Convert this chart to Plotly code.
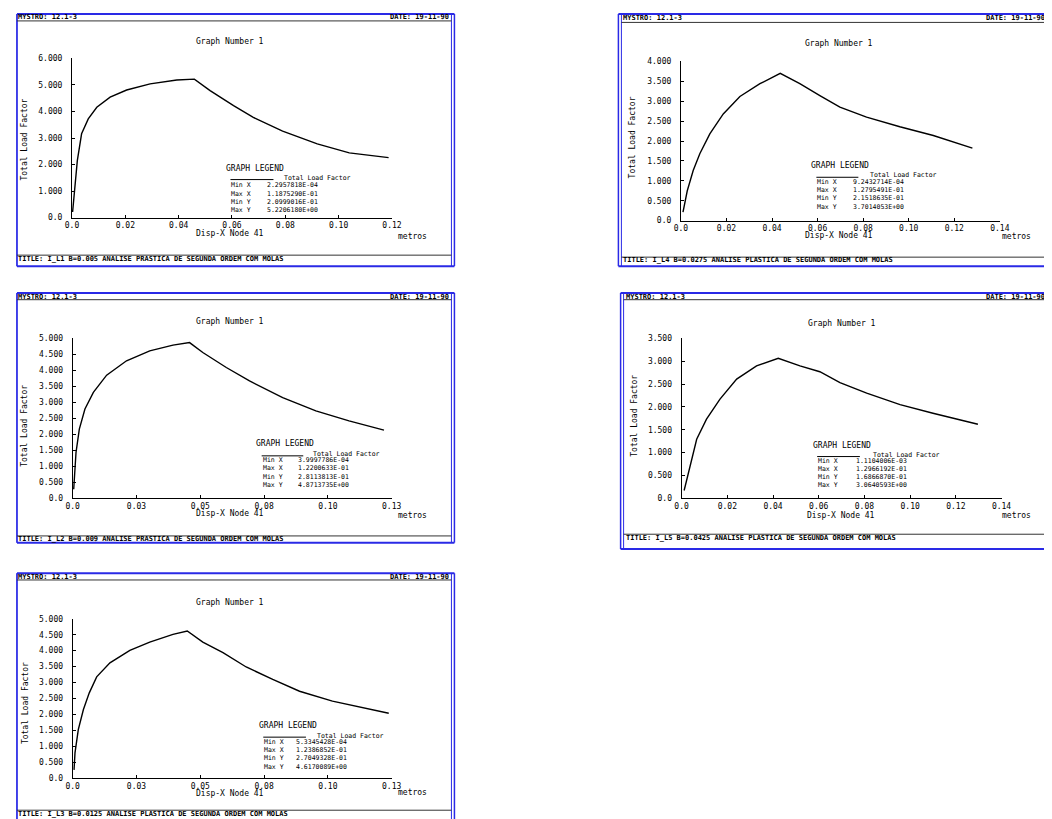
import plotly.graph_objects as go

# Figure size and the measured figure->screen mapping (screen = A * fig + B)
FIG_W, FIG_H = 1052, 819
AX, BX = 0.984, 15.0
AY, BY = 0.988, 11.6

# ---------------- data ----------------
x1 = [0.00023, 0.0011, 0.002, 0.0036, 0.0061, 0.0093, 0.0143, 0.0205, 0.0293, 0.0393, 0.0459,
      0.0518, 0.0606, 0.068, 0.079, 0.092, 0.104, 0.11875]
y1 = [0.21, 1.15, 2.15, 3.16, 3.72, 4.16, 4.54, 4.81, 5.04, 5.19, 5.22,
      4.79, 4.22, 3.78, 3.26, 2.78, 2.44, 2.26]

x2 = [0.00092, 0.0028, 0.0054, 0.0083, 0.0127, 0.0186, 0.0259, 0.0347, 0.0436,
      0.0522, 0.061, 0.0698, 0.0815, 0.0961, 0.1108, 0.12795]
y2 = [0.215, 0.75, 1.26, 1.68, 2.18, 2.68, 3.12, 3.44, 3.70,
      3.44, 3.14, 2.85, 2.60, 2.36, 2.14, 1.82]

x3 = [0.0004, 0.0007, 0.0013, 0.0026, 0.0048, 0.0081, 0.0133, 0.0211, 0.0302, 0.0393, 0.0458,
      0.051, 0.0602, 0.0693, 0.0823, 0.0953, 0.1083, 0.1220]
y3 = [0.28, 0.80, 1.43, 2.16, 2.79, 3.31, 3.85, 4.30, 4.61, 4.79, 4.87,
      4.56, 4.09, 3.67, 3.15, 2.73, 2.42, 2.13]

x4 = [0.00111, 0.0036, 0.0066, 0.0109, 0.0168, 0.0241, 0.0328, 0.0423,
      0.0518, 0.0605, 0.0693, 0.081, 0.0956, 0.110, 0.12966]
y4 = [0.169, 0.71, 1.29, 1.73, 2.17, 2.61, 2.90, 3.064,
      2.90, 2.77, 2.53, 2.30, 2.05, 1.86, 1.62]

x5 = [0.00053, 0.0009, 0.0022, 0.0042, 0.0065, 0.0094, 0.0146, 0.0224, 0.0302, 0.0393, 0.0449,
      0.051, 0.0589, 0.068, 0.0784, 0.0889, 0.1018, 0.12387]
y5 = [0.27, 0.80, 1.53, 2.16, 2.68, 3.18, 3.62, 4.01, 4.27, 4.51, 4.617,
      4.27, 3.94, 3.49, 3.10, 2.73, 2.42, 2.04]

xticks_02 = [0.0, 0.02, 0.04, 0.06, 0.08, 0.10, 0.12, 0.14]
xtext_02 = ["0.0", "0.02", "0.04", "0.06", "0.08", "0.10", "0.12", "0.14"]
xticks_025 = [0.0, 0.025, 0.05, 0.075, 0.10, 0.125]
xtext_025 = ["0.0", "0.03", "0.05", "0.08", "0.10", "0.13"]
yticks_1 = [0, 1, 2, 3, 4, 5, 6]
ytext_1 = ["0.0", "1.000", "2.000", "3.000", "4.000", "5.000", "6.000"]
yticks_05 = [0, 0.5, 1, 1.5, 2, 2.5, 3, 3.5, 4, 4.5, 5]
ytext_05 = ["0.0", "0.500", "1.000", "1.500", "2.000", "2.500", "3.000", "3.500",
            "4.000", "4.500", "5.000"]

legend_labels = ["Min X", "Max X", "Min Y", "Max Y"]
legend_values = [
    ["2.2957818E-04", "1.1875290E-01", "2.0999016E-01", "5.2206180E+00"],
    ["9.2432714E-04", "1.2795491E-01", "2.1518635E-01", "3.7014053E+00"],
    ["3.9997786E-04", "1.2200633E-01", "2.8113813E-01", "4.8713735E+00"],
    ["1.1104006E-03", "1.2966192E-01", "1.6866870E-01", "3.0640593E+00"],
    ["5.3345428E-04", "1.2386852E-01", "2.7049328E-01", "4.6170089E+00"],
]
footers = [
    "TITLE: I_L1 B=0.005 ANALISE PRASTICA DE SEGUNDA ORDEM COM MOLAS",
    "TITLE: I_L4 B=0.0275 ANALISE PLASTICA DE SEGUNDA ORDEM COM MOLAS",
    "TITLE: I_L2 B=0.009 ANALISE PRASTICA DE SEGUNDA ORDEM COM MOLAS",
    "TITLE: I_L5 B=0.0425 ANALISE PLASTICA DE SEGUNDA ORDEM COM MOLAS",
    "TITLE: I_L3 B=0.0125 ANALISE PLASTICA DE SEGUNDA ORDEM COM MOLAS",
]
header_left = "MYSTRO: 12.1-3"
header_right = "DATE: 19-11-90"
graph_title = "Graph Number 1"
x_title = "Disp-X Node 41"
y_title = "Total Load Factor"
unit_text = "metros"
legend_title = "GRAPH LEGEND"
series_name = "Total Load Factor"

# ---------------- layout geometry (target screen pixels) ----------------
EDGE = 2

def fig_x(px):
    return min(max((px - BX) / AX, EDGE), FIG_W - EDGE)

def fig_y(py):
    return min(max((py - BY) / AY, EDGE), FIG_H - EDGE)

def fx(px):
    return fig_x(px) / FIG_W

def fy(py):
    return 1 - fig_y(py) / FIG_H

SCREEN_R = AX * (FIG_W - EDGE) + BX
SCREEN_B = AY * (FIG_H - EDGE) + BY

panels = [
    dict(x=x1, y=y1, xr=0.12, yr=6, xt=(xticks_02[:7], xtext_02[:7]), yt=(yticks_1, ytext_1),
         ax=(72, 392), ay=(217, 58),
         frame=(9, 12.5, 454.5, 265.5), hline=20.5, fline=254.5, ftext=258.5,
         title=(230, 41.5), xtit=(230, 233), unit=(413, 236), ytit=(25, 139),
         leg=dict(gl=(225, 167.5), ul=(230.5, 273.5, 179), tlf=(283.5, 177), lab=230.5, val=266.5,
                  rows=[184.5, 193, 201.3, 209.6])),
    dict(x=x2, y=y2, xr=0.14, yr=4, xt=(xticks_02, xtext_02), yt=(yticks_05[:9], ytext_05[:9]),
         ax=(681, 1000), ay=(220, 61),
         frame=(618.5, 13, 2000, 265.5), hline=22, fline=256.5, ftext=259.5,
         title=(839, 43.3), xtit=(839, 235), unit=(1017, 236), ytit=(633, 137),
         leg=dict(gl=(810.5, 165), ul=(816.5, 858.5, 176.7), tlf=(869.5, 174.5), lab=816.5, val=852.5,
                  rows=[181.5, 189, 197.5, 206])),
    dict(x=x3, y=y3, xr=0.125, yr=5, xt=(xticks_025, xtext_025), yt=(yticks_05, ytext_05),
         ax=(72.7, 391.7), ay=(497.3, 337.7),
         frame=(9, 292.3, 454.5, 541.7), hline=299, fline=535, ftext=538.5,
         title=(230, 321), xtit=(230, 512.5), unit=(412.5, 515), ytit=(25, 425),
         leg=dict(gl=(255, 442.3), ul=(261.7, 303.3, 455), tlf=(311.7, 453), lab=261.7, val=296.7,
                  rows=[459.5, 467.5, 476, 484.5])),
    dict(x=x4, y=y4, xr=0.14, yr=3.5, xt=(xticks_02, xtext_02), yt=(yticks_05[:8], ytext_05[:8]),
         ax=(681.7, 1001.7), ay=(497.3, 337.7),
         frame=(620.7, 292.3, 2000, 548), hline=299, fline=533.3, ftext=536.7,
         title=(841.7, 322.3), xtit=(841, 515), unit=(1016.7, 515), ytit=(635, 415),
         leg=dict(gl=(812, 444.3), ul=(817.3, 860, 455.7), tlf=(871.7, 454.5), lab=817.3, val=855,
                  rows=[460.5, 468, 476, 484.3])),
    dict(x=x5, y=y5, xr=0.125, yr=5, xt=(xticks_025, xtext_025), yt=(yticks_05, ytext_05),
         ax=(72.7, 391.7), ay=(777.3, 617.7),
         frame=(9, 572.3, 454.5, 2000), hline=579, fline=809, ftext=813,
         title=(230, 601), xtit=(230, 792.5), unit=(412.5, 791.7), ytit=(25, 702),
         leg=dict(gl=(258.3, 724), ul=(263.3, 306, 736), tlf=(316, 734.5), lab=263.3, val=295,
                  rows=[740.5, 748.5, 757.3, 766])),
]

FONT = "DejaVu Sans Mono"
BLUE = "#2a2ae6"

fig = go.Figure()
shapes = []
annotations = []

def ann(text, px, py, size=8, xanchor="center", yanchor="middle", angle=0, bold=False):
    t = f"<b>{text}</b>" if bold else text
    annotations.append(dict(text=t, x=fx(px), y=fy(py), xref="paper", yref="paper",
                            showarrow=False, xanchor=xanchor, yanchor=yanchor, textangle=angle,
                            borderpad=0,
                            font=dict(family=FONT, size=size, color="black")))

def line(x0, y0, x1_, y1_, color="black", width=1):
    shapes.append(dict(type="line", xref="paper", yref="paper", x0=fx(x0), y0=fy(y0),
                       x1=fx(x1_), y1=fy(y1_), line=dict(color=color, width=width)))

for i, p in enumerate(panels, start=1):
    sx = "" if i == 1 else str(i)
    fig.add_trace(go.Scatter(x=p["x"], y=p["y"], mode="lines",
                             line=dict(color="black", width=1.4),
                             xaxis="x" + sx, yaxis="y" + sx, showlegend=False))
    common = dict(showline=True, linecolor="black", linewidth=1, showgrid=False, zeroline=False,
                  ticks="inside", ticklen=3, tickcolor="black", tickwidth=1,
                  tickfont=dict(family=FONT, size=8, color="black"), fixedrange=True)
    fig.update_layout(**{
        "xaxis" + sx: dict(common, domain=[fx(p["ax"][0]), fx(p["ax"][1])], range=[0, p["xr"]],
                           anchor="y" + sx, tickmode="array", tickvals=p["xt"][0], ticktext=p["xt"][1],
                           ticklabelstandoff=0),
        "yaxis" + sx: dict(common, domain=[fy(p["ay"][0]), fy(p["ay"][1])], range=[0, p["yr"]],
                           anchor="x" + sx, tickmode="array", tickvals=p["yt"][0], ticktext=p["yt"][1],
                           ticklabelstandoff=7),
    })
    l, t, r, b = p["frame"]
    open_right = r > SCREEN_R
    open_bottom = b > SCREEN_B
    rr = min(r, SCREEN_R)
    bb = min(b, SCREEN_B)
    # frame: blue double border
    line(l, t, rr, t, BLUE, 2)
    if not open_bottom:
        line(l, bb, rr, bb, BLUE, 2)
    line(l, t, l, bb, BLUE, 1.5)
    line(l + 3, t, l + 3, bb, BLUE, 1)
    if not open_right:
        line(rr, t, rr, bb, BLUE, 1.5)
        line(rr - 3, t, rr - 3, bb, BLUE, 1)
    rin = rr if open_right else rr - 3
    # header / footer separators
    line(l + 3, p["hline"], rin, p["hline"], "#333333", 1)
    line(l + 3, p["fline"], rin, p["fline"], "#333333", 1)
    ann(header_left, l + 4, (t + p["hline"]) / 2 + 0.5, size=7, xanchor="left", bold=True)
    ann(header_right, rr - 4 if not open_right else rr - 2, (t + p["hline"]) / 2 + 0.5, size=7,
        xanchor="right", bold=True)
    ann(footers[i - 1], l + 4, p["ftext"], size=7, xanchor="left", bold=True)
    # titles
    ann(graph_title, *p["title"], size=8)
    ann(x_title, *p["xtit"], size=8)
    ann(unit_text, *p["unit"], size=8)
    ann(y_title, *p["ytit"], size=8, angle=-90)
    # legend block
    lg = p["leg"]
    ann(legend_title, lg["gl"][0], lg["gl"][1], size=8, xanchor="left")
    line(lg["ul"][0], lg["ul"][2], lg["ul"][1], lg["ul"][2], "black", 1)
    ann(series_name, lg["tlf"][0], lg["tlf"][1], size=6.5, xanchor="left")
    for lab, val, ry in zip(legend_labels, legend_values[i - 1], lg["rows"]):
        ann(lab, lg["lab"], ry, size=6.5, xanchor="left")
        ann(val, lg["val"], ry, size=6.5, xanchor="left")

fig.update_layout(width=FIG_W, height=FIG_H, margin=dict(l=0, r=0, t=0, b=0),
                  paper_bgcolor="white", plot_bgcolor="white", showlegend=False,
                  shapes=shapes, annotations=annotations)

fig.write_html("out.html")
